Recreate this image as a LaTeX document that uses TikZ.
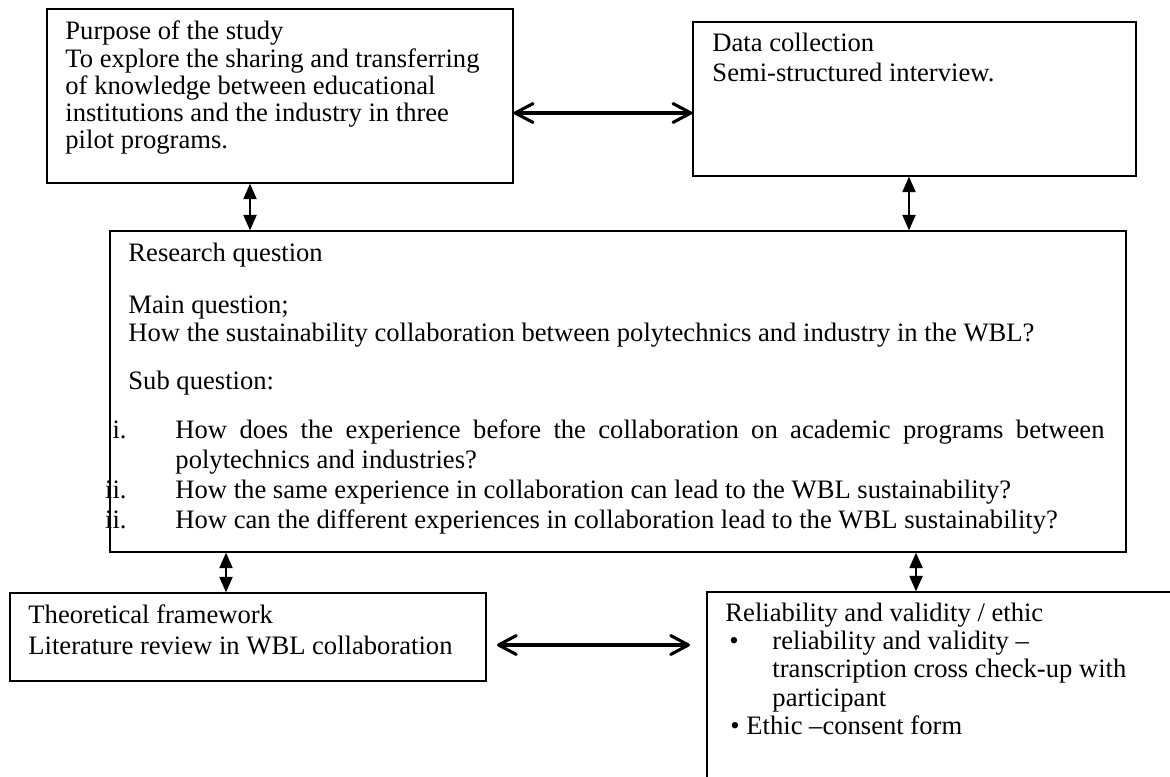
\documentclass[tikz,border=0pt]{standalone}
\usepackage{fontspec}
\setmainfont{Liberation Serif}
\usetikzlibrary{arrows.meta,fit}
\tikzset{
    box/.style={draw, line width=0.6pt, inner sep=0pt},
    txt/.style={anchor=base west, inner sep=0pt, font=\fontsize{12}{14}\selectfont},
    lbl/.style={anchor=base east, inner sep=0pt, font=\fontsize{12}{14}\selectfont},
    thinarrow/.style={{Triangle[length=7pt,width=6pt]}-{Triangle[length=7pt,width=6pt]}, line width=0.6pt},
    thickarrow/.style={{Straight Barb[length=8pt,width=8.5pt,round]}-{Straight Barb[length=8pt,width=8.5pt,round]}, line width=1.4pt}}

\begin{document}
\begin{tikzpicture}[x=0.451pt, y=-0.451pt]
\useasboundingbox (0,0) rectangle (1170,776);
\clip (0,0) rectangle (1170,776);

%boxes
\node[box, fit={(47,9) (513,183)}] (purpose) {};
\node[box, fit={(693,22) (1136,176)}] (data) {};
\node[box, fit={(110,231) (1126,552)}] (research) {};
\node[box, fit={(10,593) (486,681)}] (theory) {};
\node[box, fit={(707,592) (1200,800)}] (ethic) {};

%texts
\foreach \words [count=\i] in {Purpose of the study, To explore the sharing and transferring, of knowledge between educational, institutions and the industry in three, pilot programs.}
    \node[txt] (purpose\i) at (65,{40+27.2*(\i-1)}) {\words};
\foreach \words [count=\i] in {Data collection, Semi-structured interview.}
    \node[txt] (data\i) at (712,{52+30*(\i-1)}) {\words};

\node[txt] (rq) at (128,261) {Research question};
\node[txt] (mq1) at (128,313) {Main question;};
\node[txt] (mq2) at (128,341) {How the sustainability collaboration between polytechnics and industry in the WBL?};
\node[txt] (sq) at (128,389) {Sub question:};
\node[lbl] (n1) at (127,438) {i.};
\node[txt] (q1a) at (175,438) {\makebox[419pt][s]{How does the experience before the collaboration on academic programs between}};
\node[txt] (q1b) at (175,468) {polytechnics and industries?};
\node[lbl] (n2) at (127,498) {ii.};
\node[txt] (q2) at (175,498) {How the same experience in collaboration can lead to the WBL sustainability?};
\node[lbl] (n3) at (127,528) {ii.};
\node[txt] (q3) at (175,528) {How can the different experiences in collaboration lead to the WBL sustainability?};

\foreach \words [count=\i] in {Theoretical framework, Literature review in WBL collaboration}
    \node[txt] (theory\i) at (28,{623+31*(\i-1)}) {\words};

\node[txt] (eth0) at (725,621) {Reliability and validity / ethic};
\node[txt] (dot1) at (729,649) {\textbullet};
\foreach \words [count=\i] in {reliability and validity --, transcription cross check-up with, participant}
    \node[txt] (eth\i) at (772,{649+28.5*(\i-1)}) {\words};
\node[txt] (eth4) at (730,734) {\textbullet{} Ethic --consent form};

%arrows
\draw[thickarrow] (purpose.east |- 0,113) -- (data.west |- 0,113);
\draw[thinarrow] (purpose.south -| 250,0) -- (research.north -| 250,0);
\draw[thinarrow] (data.south -| 909,0) -- (research.north -| 909,0);
\draw[thinarrow] (research.south -| 226,0) -- (theory.north -| 226,0);
\draw[thinarrow] (research.south -| 916,0) -- (ethic.north -| 916,0);
\coordinate (b1) at (497,645);
\coordinate (b2) at (690,645);
\draw[thickarrow] (b1) -- (b2);

\end{tikzpicture}
\end{document}
